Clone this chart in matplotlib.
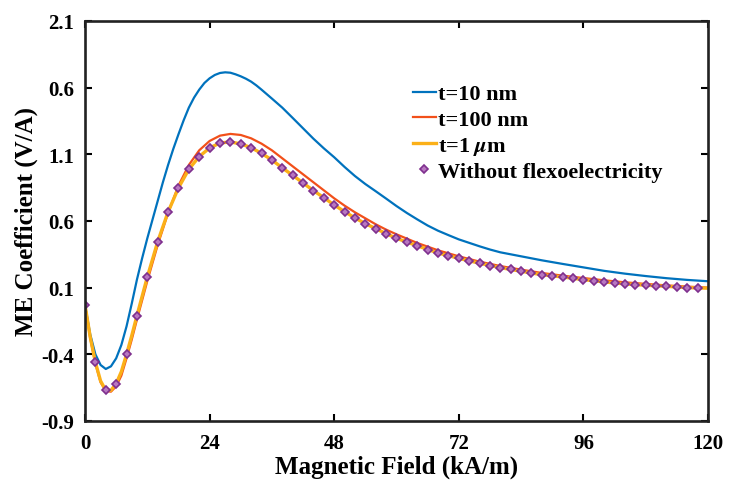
import matplotlib
matplotlib.use("Agg")
import matplotlib.pyplot as plt

plt.rcParams['font.family'] = ['Liberation Serif', 'DejaVu Serif']
plt.rcParams['font.weight'] = 'bold'
plt.rcParams['mathtext.fontset'] = 'stix'

# values (field in kA/m, ME coefficient in V/A)
h_10nm = [0, 1, 2, 3, 4, 5, 6, 7, 8, 9, 10, 11, 12, 13, 14, 15, 16, 17, 18,
          19, 20, 21, 22, 23, 24, 25, 26, 27, 28, 29, 30, 31, 32, 33, 34, 36,
          38, 40, 42, 44, 46, 48, 50, 52, 54, 56, 58, 60, 62, 64, 66, 68, 70,
          72, 74, 76, 78, 80, 84, 88, 92, 96, 100, 104, 108, 112, 116, 120]
me_10nm = [-0.03, -0.25, -0.40, -0.48, -0.51, -0.49, -0.43, -0.33, -0.19, -0.02,
           0.16, 0.32, 0.47, 0.61, 0.75, 0.89, 1.02, 1.14, 1.25, 1.355,
           1.45, 1.525, 1.585, 1.635, 1.67, 1.695, 1.71, 1.715, 1.712, 1.70,
           1.685, 1.667, 1.645, 1.617, 1.585, 1.518, 1.45, 1.373,
           1.295, 1.217, 1.145, 1.078, 1.005, 0.937, 0.877, 0.823, 0.768, 0.712,
           0.66, 0.612, 0.566, 0.527, 0.494, 0.462, 0.436, 0.41, 0.386, 0.365,
           0.335, 0.305, 0.278, 0.252, 0.226, 0.205, 0.187, 0.171, 0.158, 0.148]

h_100nm = [0, 1, 2, 3, 4, 5, 6, 7, 8, 9, 10, 12, 14, 16, 18, 20, 22, 24, 26,
           28, 30, 32, 34, 36, 38, 40, 42, 44, 46, 48, 50, 52, 54, 56, 58, 60,
           64, 68, 72, 76, 80, 84, 88, 92, 96, 100, 104, 108, 112, 116, 120]
me_100nm = [-0.03, -0.28, -0.47, -0.61, -0.675, -0.68, -0.64, -0.56, -0.43,
            -0.29, -0.14, 0.15, 0.42, 0.66, 0.865, 1.02, 1.13, 1.20, 1.24,
            1.253, 1.245, 1.22, 1.18, 1.13, 1.07, 1.01, 0.95, 0.89, 0.83,
            0.77, 0.715, 0.665, 0.62, 0.575, 0.535, 0.50, 0.435, 0.38, 0.335,
            0.295, 0.262, 0.235, 0.21, 0.19, 0.172, 0.155, 0.14, 0.128, 0.117,
            0.108, 0.10]

h_1um = [0, 1, 2, 3, 4, 5, 6, 7, 8, 9, 10, 12, 14, 16, 18, 20, 22, 24, 26, 28,
         30, 32, 34, 36, 38, 40, 42, 44, 46, 48, 50, 52, 54, 56, 58, 60, 64,
         68, 72, 76, 80, 84, 88, 92, 96, 100, 104, 108, 112, 116, 120]
me_1um = [-0.03, -0.27, -0.46, -0.60, -0.67, -0.67, -0.62, -0.53, -0.40, -0.26,
          -0.11, 0.18, 0.445, 0.668, 0.848, 0.988, 1.083, 1.148, 1.185, 1.193,
          1.178, 1.15, 1.107, 1.058, 0.998, 0.943, 0.885, 0.828, 0.775, 0.72,
          0.67, 0.623, 0.58, 0.543, 0.505, 0.47, 0.414, 0.36, 0.32, 0.283,
          0.25, 0.223, 0.197, 0.18, 0.16, 0.143, 0.128, 0.118, 0.11, 0.10,
          0.096]

h_noflexo = list(range(0, 120, 2))
me_noflexo = [-0.03, -0.46, -0.67, -0.62, -0.40, -0.11, 0.18, 0.445, 0.668,
              0.848, 0.988, 1.083, 1.148, 1.185, 1.193, 1.178, 1.15, 1.107,
              1.058, 0.998, 0.943, 0.885, 0.828, 0.775, 0.72, 0.67, 0.623,
              0.58, 0.543, 0.505, 0.47, 0.443, 0.414, 0.385, 0.36, 0.338, 0.32,
              0.30, 0.283, 0.265, 0.25, 0.238, 0.223, 0.21, 0.197, 0.188, 0.18,
              0.17, 0.16, 0.152, 0.143, 0.135, 0.128, 0.122, 0.118, 0.113,
              0.11, 0.105, 0.10, 0.098]

xticks = [0, 24, 48, 72, 96, 120]
yticks = [-0.9, -0.4, 0.1, 0.6, 1.1, 1.6, 2.1]
ytick_labels = ['-0.9', '-0.4', '0.1', '0.6', '1.1', '0.6', '2.1']

fig = plt.figure(figsize=(7.31, 4.81), dpi=100)
ax = fig.add_axes([0.1163, 0.1227, 0.8522, 0.8316])

ax.plot(h_10nm, me_10nm, color='#0072BD', lw=1.6, label='t=10 nm')
ax.plot(h_100nm, me_100nm, color='#F2501A', lw=1.6, label='t=100 nm')
ax.plot(h_1um, me_1um, color='#FBB018', lw=2.4, label=r't=1 $\mu$m')
ax.plot(h_noflexo, me_noflexo, ls='none', marker='D', ms=4.2,
        mfc='#B877C0', mec='#7E2F8E', mew=1.2,
        label='Without flexoelectricity')

ax.set_xlim(0, 120)
ax.set_ylim(-0.9, 2.1)
ax.set_xticks(xticks)
ax.set_xticklabels([str(v) for v in xticks])
ax.set_yticks(yticks)
ax.set_yticklabels(ytick_labels)
ax.tick_params(direction='in', length=5, width=1.5, top=True, right=True,
               labelsize=15, pad=8)
ax.tick_params(axis='x', pad=9)
for s in ax.spines.values():
    s.set_linewidth(1.9)
    s.set_color('#222222')

ax.set_xlabel('Magnetic Field (kA/m)', fontsize=18, fontweight='bold',
              labelpad=0.5)
ax.set_ylabel('ME Coefficient (V/A)', fontsize=18, fontweight='bold',
              labelpad=2)

ax.legend(loc='upper left', bbox_to_anchor=(0.527, 0.843), frameon=False,
          fontsize=16, handlelength=1.0, handletextpad=0.1,
          labelspacing=0.22, borderaxespad=0, borderpad=0)

fig.savefig('out.png', dpi=100)
